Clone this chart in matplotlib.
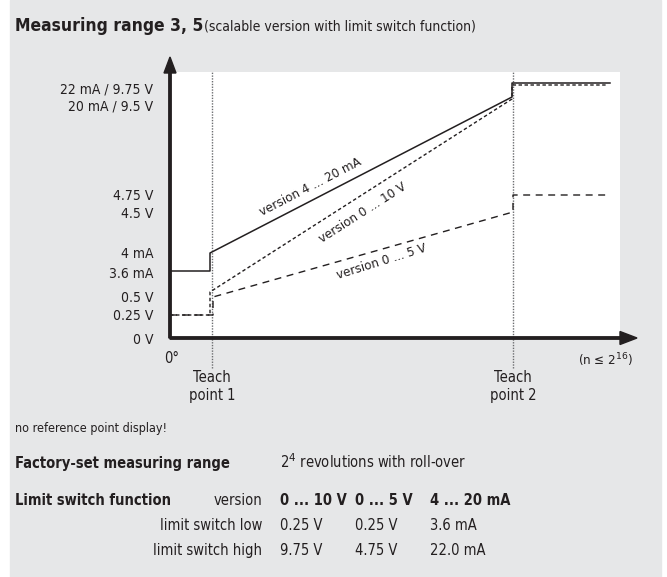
import matplotlib.pyplot as plt
import numpy as np
from matplotlib import font_manager as fm
from matplotlib.patches import Rectangle
from matplotlib.textpath import TextPath

# --- chart values (schematic units) ---
tick_pos = [0, 23, 42, 66, 85, 125, 143, 233, 250]
tick_labels = ['0 V', '0.25 V', '0.5 V', '3.6 mA', '4 mA', '4.5 V', '4.75 V',
               '20 mA / 9.5 V', '22 mA / 9.75 V']

teach_x = [42, 343]
teach_labels = ['Teach\npoint 1', 'Teach\npoint 2']

current_x = [0, 40, 40, 342, 342, 440]
current_y = [67, 67, 85, 241, 255, 255]
v10_x = [0, 40, 40, 342, 342, 438]
v10_y = [23, 23, 46, 239, 253, 253]
v5_x = [0, 43, 43, 343, 343, 440]
v5_y = [23, 23, 41, 126, 143, 143]

table_cols = ['0 ... 10 V', '0 ... 5 V', '4 ... 20 mA']
table_low = ['0.25 V', '0.25 V', '3.6 mA']
table_high = ['9.75 V', '4.75 V', '22.0 mA']

# pick a narrow sans face if one is installed
installed = {(f.name, f.stretch) for f in fm.fontManager.ttflist}
prefs = [('Roboto Condensed', 'normal'), ('Liberation Sans Narrow', 'normal'),
         ('DejaVu Sans', 'condensed')]
FAM, STRETCH = 'DejaVu Sans', 'normal'
for name, stretch in prefs:
    if (name, stretch) in installed:
        FAM, STRETCH = name, stretch
        break
FONT = [FAM, 'DejaVu Sans']
TXT = dict(family=FONT, fontstretch=STRETCH)


def text_px(s, size, weight='normal'):
    prop = fm.FontProperties(family=FONT, stretch=STRETCH, weight=weight, size=size)
    return TextPath((0, 0), s, size=size, prop=prop).get_extents().width * 100 / 72


INK = '#231f20'
GRAY_BG = '#e6e7e8'
W, H = 667, 577


def fpos(x, y):
    """pixel position -> figure fraction"""
    return x / W, 1 - y / H


fig = plt.figure(figsize=(W / 100, H / 100), dpi=100)
fig.patches.append(Rectangle((10 / W, 0), 651 / W, 1, transform=fig.transFigure,
                             color=GRAY_BG, zorder=-1))

# plot area: x 170..620 px, y 72..338 px
ax = fig.add_axes([170 / W, (H - 338) / H, 450 / W, 266 / H])
ax.set_xlim(0, 450)
ax.set_ylim(0, 266)
ax.set_facecolor('white')
for s in ax.spines.values():
    s.set_visible(False)
ax.set_xticks([])
ax.set_yticks(tick_pos, labels=tick_labels)
ax.tick_params(axis='y', length=0, pad=12, labelsize=10, labelcolor=INK)
for t in ax.get_yticklabels():
    t.set_family(FONT)
    t.set_stretch(STRETCH)

# axes with arrows
ax.arrow(0, 0, 0, 281, width=2.4, head_width=12, head_length=16,
         length_includes_head=True, color=INK, clip_on=False, zorder=5)
ax.arrow(0, 0, 467, 0, width=2.4, head_width=13, head_length=17,
         length_includes_head=True, color=INK, clip_on=False, zorder=5)

# teach point markers
for tx, tl in zip(teach_x, teach_labels):
    ax.plot([tx, tx], [-30, 266], linestyle=(0, (1, 1)), color='#6d6e71',
            lw=1.0, clip_on=False, zorder=2)
    ax.text(tx, -32, tl, ha='center', va='top', fontsize=10.5, color=INK,
            linespacing=1.25, **TXT)

ax.text(2, -13, '0°', ha='center', va='top', fontsize=10.5, color=INK, **TXT)
ax.text(463, -13, '(n ≤ 2$^{16}$)', ha='right', va='top', fontsize=9.5,
        color=INK, **TXT)

# output curves
ax.plot(current_x, current_y, color=INK, lw=1.1, zorder=4)
ax.plot(v10_x, v10_y, color=INK, lw=1.0, linestyle=(0, (2.5, 1.8)), zorder=4)
ax.plot(v5_x, v5_y, color=INK, lw=1.0, linestyle=(0, (5, 4)), zorder=4)


def slope_deg(xs, ys):
    return np.degrees(np.arctan2(ys[3] - ys[2], xs[3] - xs[2]))


LBL = 9.5
ax.text(140, 151, 'version 4 ... 20 mA', rotation=slope_deg(current_x, current_y),
        ha='center', va='center', rotation_mode='anchor', fontsize=LBL,
        color=INK, **TXT)
ax.text(193, 125, 'version 0 ... 10 V', rotation=slope_deg(v10_x, v10_y),
        ha='center', va='center', rotation_mode='anchor', fontsize=LBL,
        color=INK, **TXT)
ax.text(212, 76, 'version 0 ... 5 V', rotation=slope_deg(v5_x, v5_y) + 1.5,
        ha='center', va='center', rotation_mode='anchor', fontsize=LBL,
        color=INK, **TXT)

# --- headings and table ---
title = 'Measuring range 3, 5'
fig.text(*fpos(15, 31), title, fontsize=12.5, fontweight='bold',
         color=INK, va='baseline', **TXT)
sub_x = max(178, 15 + text_px(title, 12.5, 'bold') + 4)
fig.text(*fpos(sub_x, 31), '(scalable version with limit switch function)',
         fontsize=10, color=INK, va='baseline', **TXT)

fig.text(*fpos(15, 432), 'no reference point display!', fontsize=9,
         color=INK, va='baseline', **TXT)
fig.text(*fpos(15, 468), 'Factory-set measuring range', fontsize=10.5,
         fontweight='bold', color=INK, va='baseline', **TXT)
fig.text(*fpos(280, 468), '2$^{4}$ revolutions with roll-over', fontsize=10.5,
         color=INK, va='baseline', **TXT)
fig.text(*fpos(15, 505), 'Limit switch function', fontsize=10.5,
         fontweight='bold', color=INK, va='baseline', **TXT)

row_y = [505, 530, 555]
row_names = ['version', 'limit switch low', 'limit switch high']
col_x = [280, 355, 430]
for ry, rn in zip(row_y, row_names):
    fig.text(*fpos(262, ry), rn, ha='right', fontsize=10.5, color=INK,
             va='baseline', **TXT)
for cx, head, lo, hi in zip(col_x, table_cols, table_low, table_high):
    fig.text(*fpos(cx, row_y[0]), head, fontsize=10.5, fontweight='bold',
             color=INK, va='baseline', **TXT)
    fig.text(*fpos(cx, row_y[1]), lo, fontsize=10.5, color=INK,
             va='baseline', **TXT)
    fig.text(*fpos(cx, row_y[2]), hi, fontsize=10.5, color=INK,
             va='baseline', **TXT)

fig.savefig('out.png', dpi=100)
